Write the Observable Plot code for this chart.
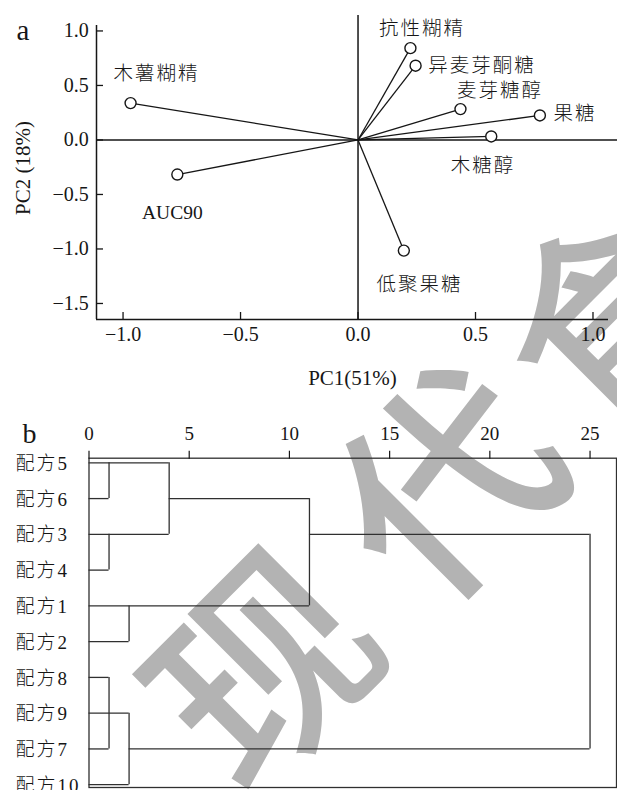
<!DOCTYPE html>
<html><head><meta charset="utf-8">
<script src="https://cdn.jsdelivr.net/npm/d3@7"></script>
<script src="https://cdn.jsdelivr.net/npm/@observablehq/plot@0.6"></script>
<style>
html,body{margin:0;padding:0;background:#fff;}
#wrap{position:relative;width:617px;height:790px;overflow:hidden;}
#wm{position:absolute;left:0;top:0;}
#pa{position:absolute;left:0;top:0;}
#pb{position:absolute;left:0;top:410px;}
</style></head><body>
<div id="wrap"><svg id="wm" width="617" height="790"></svg><div id="pa"></div><div id="pb"></div></div>
<script>
// ---------- data: panel a (PCA loadings) ----------
const variables = ["木薯糊精","AUC90","抗性糊精","异麦芽酮糖","麦芽糖醇","果糖","木糖醇","低聚果糖"];
const pc1 = [-0.968,-0.769,0.223,0.245,0.436,0.774,0.567,0.195];
const pc2 = [0.338,-0.317,0.842,0.681,0.283,0.225,0.032,-1.015];
const pc1Ticks = [-1,-0.5,0,0.5,1];
const pc2Ticks = [-1.5,-1,-0.5,0,0.5,1];
const pc1Label = "PC1(51%)";
const pc2Label = "PC2 (18%)";
// ---------- data: panel b (dendrogram) ----------
const formulas = ["配方5","配方6","配方3","配方4","配方1","配方2","配方8","配方9","配方7","配方10"];
const distTicks = [0,5,10,15,20,25];
// horizontal branches: [row, from distance, to distance]
const hBranches = [["配方5",0,4],["配方6",0,1],["配方6",4,11],["配方3",0,4],["配方3",11,25],["配方4",0,1],
  ["配方1",0,11],["配方2",0,2],["配方8",0,1],["配方9",0,2],["配方7",0,1],["配方7",2,25],["配方10",0,2]];
// vertical joins: [distance, from row, to row]
const vJoins = [[1,"配方5","配方6"],[4,"配方5","配方3"],[1,"配方3","配方4"],[11,"配方6","配方1"],
  [2,"配方1","配方2"],[1,"配方8","配方7"],[2,"配方9","配方10"],[25,"配方3","配方7"]];

// ---------- drawing ----------
const FONT = "'Liberation Serif','Noto Sans CJK SC',serif";
const pts = variables.map((v,i)=>({name:v, x:pc1[i], y:pc2[i]}));
// label placement (pixel offsets from point, anchor)
const labelPos = {"木薯糊精":[26,-29.4,"middle"],"AUC90":[-5,38.5,"middle"],"抗性糊精":[11.7,-19.4,"middle"],
  "异麦芽酮糖":[12.7,0,"start"],"麦芽糖醇":[39.5,-18,"middle"],"果糖":[13.7,-1.7,"start"],
  "木糖醇":[-8.2,29,"middle"],"低聚果糖":[15.7,34.3,"middle"]};
const xDom = [-1.113, 1.066], yDom = [-1.647, 1.05];
const ink = "#161616";

const A = Plot.plot({
  width:617, height:410, marginLeft:96, marginRight:9, marginTop:25, marginBottom:91,
  style:{background:"transparent", fontFamily:FONT, color:ink},
  x:{domain:xDom}, y:{domain:yDom},
  marks:[
    Plot.ruleX([xDom[0]], {stroke:ink, strokeWidth:1.5}),
    Plot.ruleY([yDom[0]], {stroke:ink, strokeWidth:1.5}),
    Plot.ruleX([0], {stroke:ink, strokeWidth:1.5, insetTop:-10}),
    Plot.ruleY([0], {stroke:ink, strokeWidth:1.5, insetRight:-9}),
    Plot.axisX(pc1Ticks, {tickSize:-7, tickPadding:14, tickFormat:d3.format(".1f"), fontSize:20, fontFamily:FONT, label:null, stroke:ink, strokeWidth:1.3}),
    Plot.axisY(pc2Ticks, {tickSize:-7, tickPadding:14.7, tickFormat:d3.format(".1f"), fontSize:20, fontFamily:FONT, label:null, stroke:ink, strokeWidth:1.3}),
    Plot.link(pts, {x1:0, y1:0, x2:"x", y2:"y", stroke:ink, strokeWidth:1.3}),
    Plot.dot(pts, {x:"x", y:"y", r:5.5, stroke:ink, fill:"white", strokeWidth:1.4}),
    ...pts.map(p => Plot.text([p], {x:"x", y:"y", text:"name", dx:labelPos[p.name][0], dy:labelPos[p.name][1],
      textAnchor:labelPos[p.name][2], lineAnchor:"middle", fontSize:19.5, fontWeight:300, fontFamily:FONT, fill:ink})),
    Plot.text([pc1Label], {frameAnchor:"bottom", dy:59, textAnchor:"middle", lineAnchor:"middle", fontSize:21, fontFamily:FONT, fill:ink}),
    Plot.text([pc2Label], {frameAnchor:"left", dx:-73, dy:-4.5, rotate:-90, textAnchor:"middle", lineAnchor:"middle", fontSize:21, fontFamily:FONT, fill:ink}),
    Plot.text(["a"], {frameAnchor:"top-left", dx:-73.5, dy:14, textAnchor:"middle", lineAnchor:"bottom", fontSize:29, fontFamily:FONT, fill:ink})
  ]
});

const rowIdx = r => formulas.indexOf(r);
const line = "#303030";
const B = Plot.plot({
  width:617, height:380, marginLeft:88.5, marginRight:1, marginTop:47.7, marginBottom:3,
  style:{background:"transparent", fontFamily:FONT, color:ink},
  x:{domain:[0,26.32]}, y:{domain:[-0.129, 9.078], reverse:true, axis:null},
  marks:[
    Plot.frame({stroke:line, strokeWidth:1.3}),
    Plot.axisX(distTicks, {anchor:"top", tickSize:8, tickPadding:10.7, fontSize:19, fontFamily:FONT, label:null, stroke:ink, strokeWidth:1.2}),
    Plot.ruleY(hBranches, {y:d=>rowIdx(d[0]), x1:d=>d[1], x2:d=>d[2], stroke:line, strokeWidth:1.3}),
    Plot.ruleX(vJoins, {x:d=>d[0], y1:d=>rowIdx(d[1]), y2:d=>rowIdx(d[2]), stroke:line, strokeWidth:1.3}),
    Plot.text(formulas, {y:(d,i)=>i, text:d=>d, frameAnchor:"left", dx:-73.5, dy:1, textAnchor:"start", lineAnchor:"middle", fontSize:19, fontWeight:300, fontFamily:FONT, fill:ink}),
    Plot.text(["b"], {frameAnchor:"top-left", dx:-59.5, dy:-15.4, textAnchor:"middle", lineAnchor:"bottom", fontSize:28, fontFamily:FONT, fill:ink})
  ]
});

for (const svg of [A, B]) {
  d3.select(svg).selectAll("text").filter(function(){ return /[\u4e00-\u9fff]/.test(this.textContent); })
    .attr("letter-spacing", "2px");
}
document.getElementById("pa").appendChild(A);
document.getElementById("pb").appendChild(B);

// watermark of the source scan (rotated text, per-glyph spacing)
d3.select("#wm").append("text")
  .attr("transform","rotate(-45)")
  .attr("x",-394).attr("y",738)
  .attr("dx","0 45 22 22")
  .attr("font-family","'Noto Sans CJK SC'").attr("font-weight",500)
  .attr("font-size",215).attr("fill","#b3b3b3")
  .text("现代食品");
</script>
</body></html>
